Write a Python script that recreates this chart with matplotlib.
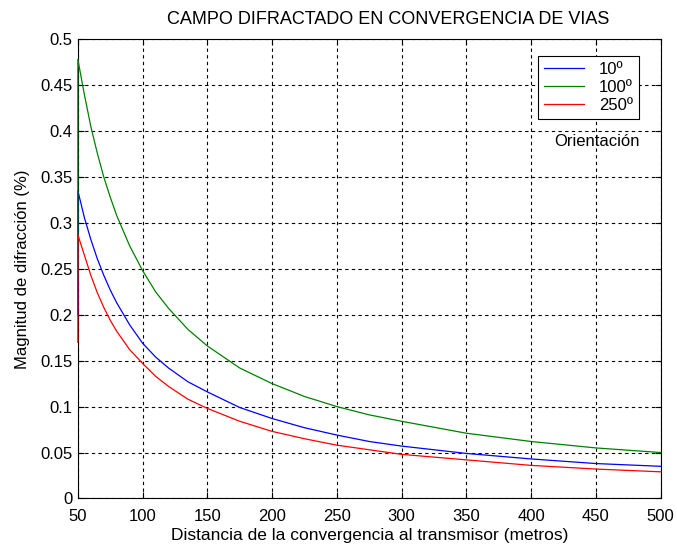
import matplotlib
matplotlib.use("Agg")
import matplotlib.pyplot as plt

plt.rcParams["font.family"] = ["Liberation Sans", "DejaVu Sans"]

# distance to transmitter (m)
distance = [50, 50, 55, 60, 65, 70, 75, 80, 90, 100, 110, 120, 135, 150, 175,
            200, 225, 250, 275, 300, 350, 400, 450, 500]

# diffraction magnitude for each orientation (first value is the start sample)
mag_10 = [0.200, 0.335, 0.306, 0.282, 0.261, 0.243, 0.227, 0.213, 0.189, 0.169,
          0.154, 0.142, 0.127, 0.116, 0.099, 0.087, 0.077, 0.069, 0.062, 0.057,
          0.049, 0.043, 0.038, 0.035]
mag_100 = [0.240, 0.478, 0.440, 0.405, 0.376, 0.350, 0.328, 0.308, 0.275, 0.248,
           0.225, 0.207, 0.184, 0.166, 0.142, 0.125, 0.111, 0.100, 0.091, 0.084,
           0.071, 0.062, 0.055, 0.050]
mag_250 = [0.170, 0.287, 0.265, 0.243, 0.224, 0.208, 0.194, 0.182, 0.162, 0.147,
           0.133, 0.122, 0.108, 0.098, 0.084, 0.073, 0.065, 0.058, 0.053, 0.048,
           0.042, 0.036, 0.032, 0.029]

series = [
    ("10º", mag_10, (0, 0, 1)),
    ("100º", mag_100, (0, 0.5, 0)),
    ("250º", mag_250, (1, 0, 0)),
]

x_ticks = list(range(50, 501, 50))
y_ticks = [0, 0.05, 0.1, 0.15, 0.2, 0.25, 0.3, 0.35, 0.4, 0.45, 0.5]
y_tick_labels = ["0", "0.05", "0.1", "0.15", "0.2", "0.25", "0.3", "0.35", "0.4", "0.45", "0.5"]

fig = plt.figure(figsize=(6.77, 5.52), dpi=100)
ax = fig.add_axes([0.115, 0.097, 0.861, 0.832])

for label, values, color in series:
    ax.plot(distance, values, color=color, linewidth=0.9, label=label,
            zorder=3, clip_on=False)

ax.set_xlim(50, 500)
ax.set_ylim(0, 0.5)
ax.set_xticks(x_ticks)
ax.set_yticks(y_ticks)
ax.set_yticklabels(y_tick_labels)
ax.tick_params(direction="in", length=4, width=0.8, labelsize=12,
               top=True, right=True)
ax.tick_params(axis="x", pad=7.5)
ax.tick_params(axis="y", pad=4)
ax.grid(True, color="black", linestyle=(0, (3, 3)), linewidth=0.8)
for spine in ax.spines.values():
    spine.set_linewidth(0.8)

ax.set_title("CAMPO DIFRACTADO EN CONVERGENCIA DE VIAS", fontsize=13,
             pad=11, x=0.533)
ax.set_xlabel("Distancia de la convergencia al transmisor (metros)", fontsize=12.5, labelpad=3)
ax.set_ylabel("Magnitud de difracción (%)", fontsize=12, labelpad=7)

leg = ax.legend(loc="upper right", bbox_to_anchor=(0.977, 0.982), fontsize=12,
                fancybox=False, framealpha=1, edgecolor="black",
                handlelength=2.4, borderpad=0.35, labelspacing=0.2,
                handletextpad=0.9)
leg.get_frame().set_linewidth(0.8)
ax.text(0.89, 0.778, "Orientación", transform=ax.transAxes, ha="center",
        va="center", fontsize=12)

fig.savefig("out.png", dpi=100)
